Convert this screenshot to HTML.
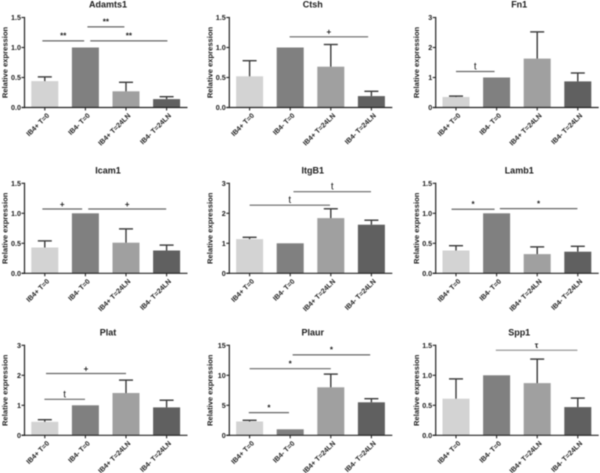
<!DOCTYPE html>
<html lang="en">
<head>
<meta charset="utf-8">
<title>Relative expression charts</title>
<style>
html,body{margin:0;padding:0;background:#fff}
svg{display:block;filter:blur(.4px)}
text{font-family:"Liberation Sans",sans-serif;fill:#1c1c1c}
</style>
</head>
<body>
<svg id="figure" width="600" height="473" viewBox="0 0 600 473" xmlns="http://www.w3.org/2000/svg"></svg>
<script>
const categories = ['IB4+ T=0', 'IB4- T=0', 'IB4+ T=24LN', 'IB4- T=24LN'];

const adamts1Values = [0.44, 1, 0.27, 0.14];
const adamts1ErrorTops = [0.51, 1, 0.42, 0.18];
const adamts1Ticks = ['0.0', '0.5', '1.0', '1.5'];
const adamts1Brackets = [[-0.06, 0.97, 1.11, '**'], [1.05, 1.96, 1.344, '**'], [1.12, 3.02, 1.11, '**']];

const ctshValues = [0.52, 1, 0.68, 0.19];
const ctshErrorTops = [0.78, 1, 1.05, 0.27];
const ctshTicks = ['0.0', '0.5', '1.0', '1.5'];
const ctshBrackets = [[0.985, 2.92, 1.178, '+']];

const fn1Values = [0.35, 1, 1.63, 0.87];
const fn1ErrorTops = [0.38, 1, 2.52, 1.15];
const fn1Ticks = ['0', '1', '2', '3'];
const fn1Brackets = [[0, 0.95, 1.2, 't']];

const icam1Values = [0.43, 1, 0.51, 0.38];
const icam1ErrorTops = [0.54, 1, 0.74, 0.47];
const icam1Ticks = ['0.0', '0.5', '1.0', '1.5'];
const icam1Brackets = [[-0.06, 0.92, 1.072, '+'], [1.07, 2.99, 1.072, '+']];

const itgb1Values = [1.14, 1, 1.84, 1.62];
const itgb1ErrorTops = [1.2, 1, 2.15, 1.77];
const itgb1Ticks = ['0', '1', '2', '3'];
const itgb1Brackets = [[0, 1.98, 2.27, 't'], [1.08, 2.99, 2.72, 't']];

const lamb1Values = [0.38, 1, 0.32, 0.36];
const lamb1ErrorTops = [0.46, 1, 0.44, 0.45];
const lamb1Ticks = ['0.0', '0.5', '1.0', '1.5'];
const lamb1Brackets = [[-0.11, 0.95, 1.067, '*'], [1.08, 2.99, 1.078, '*']];

const platValues = [0.45, 1, 1.41, 0.93];
const platErrorTops = [0.52, 1, 1.84, 1.17];
const platTicks = ['0', '1', '2', '3'];
const platBrackets = [[0.03, 2, 2.06, '+'], [-0.01, 0.99, 1.2, 't']];

const plaurValues = [2.3, 1, 8, 5.5];
const plaurErrorTops = [2.5, 1, 10.2, 6.1];
const plaurTicks = ['0', '5', '10', '15'];
const plaurBrackets = [[0, 2, 11.1, '*'], [1.06, 2.97, 13.4, '*'], [-0.02, 0.97, 3.78, '*']];

const spp1Values = [0.61, 1, 0.87, 0.47];
const spp1ErrorTops = [0.94, 1, 1.27, 0.62];
const spp1Ticks = ['0.0', '0.5', '1.0', '1.5'];
const spp1Brackets = [[0.98, 2.99, 1.417, 'τ']];

const panels = [
  {title: 'Adamts1', values: adamts1Values, tops: adamts1ErrorTops, ticks: adamts1Ticks, brackets: adamts1Brackets},
  {title: 'Ctsh', values: ctshValues, tops: ctshErrorTops, ticks: ctshTicks, brackets: ctshBrackets},
  {title: 'Fn1', values: fn1Values, tops: fn1ErrorTops, ticks: fn1Ticks, brackets: fn1Brackets},
  {title: 'Icam1', values: icam1Values, tops: icam1ErrorTops, ticks: icam1Ticks, brackets: icam1Brackets},
  {title: 'ItgB1', values: itgb1Values, tops: itgb1ErrorTops, ticks: itgb1Ticks, brackets: itgb1Brackets},
  {title: 'Lamb1', values: lamb1Values, tops: lamb1ErrorTops, ticks: lamb1Ticks, brackets: lamb1Brackets},
  {title: 'Plat', values: platValues, tops: platErrorTops, ticks: platTicks, brackets: platBrackets},
  {title: 'Plaur', values: plaurValues, tops: plaurErrorTops, ticks: plaurTicks, brackets: plaurBrackets},
  {title: 'Spp1', values: spp1Values, tops: spp1ErrorTops, ticks: spp1Ticks, brackets: spp1Brackets}
];

const NS = 'http://www.w3.org/2000/svg';
const figure = document.getElementById('figure');
const axisLefts = [24.5, 229.3, 435.7];
const baselines = [107.5, 273.3, 435.3];
const titleYs = [7.5, 173.5, 335.5];
const barFills = ['#d3d3d3', '#808080', '#a0a0a0', '#606060'];
const plotHeight = 90;

function make(parent, tag, attrs, text) {
  const el = document.createElementNS(NS, tag);
  for (const k in attrs) el.setAttribute(k, attrs[k]);
  if (text !== undefined) el.textContent = text;
  parent.appendChild(el);
  return el;
}

panels.forEach(function (p, index) {
  const col = index % 3;
  const row = Math.floor(index / 3);
  const ax = axisLefts[col];
  const base = baselines[row];
  const maxY = parseFloat(p.ticks[p.ticks.length - 1]);
  const xScale = function (c) { return ax + 20.3 + 40.6 * c; };
  const yScale = function (v) { return base - v / maxY * plotHeight; };

  const g = make(figure, 'g', {});
  
  

  const title = make(g, 'text', {x: ax + 83.5, y: titleYs[row], 'text-anchor': 'middle', 'font-size': 9, 'font-weight': 'bold'}, p.title);
  
  

  p.values.forEach(function (v, i) {
    const cx = xScale(i);
    const bar = make(g, 'rect', {x: cx - 13.5, y: yScale(v), width: 27, height: base - yScale(v), fill: barFills[i]});
    
    
    if (p.tops[i] > v) {
      const stem = make(g, 'line', {x1: cx, x2: cx, y1: yScale(v), y2: yScale(p.tops[i]), stroke: '#3a3a3a', 'stroke-width': 1.4});
      
      
      const cap = make(g, 'line', {x1: cx - 7, x2: cx + 7, y1: yScale(p.tops[i]), y2: yScale(p.tops[i]), stroke: '#3a3a3a', 'stroke-width': 1.4});
      
      
    }
  });

  const yAxis = make(g, 'line', {x1: ax, x2: ax, y1: base + 0.6, y2: base - plotHeight - 0.6, stroke: '#222', 'stroke-width': 1.2});
  
  
  const xAxis = make(g, 'line', {x1: ax - 3, x2: ax + 163, y1: base, y2: base, stroke: '#222', 'stroke-width': 1.2});
  
  

  p.ticks.forEach(function (t) {
    const y = yScale(parseFloat(t));
    const tick = make(g, 'line', {x1: ax - 3, x2: ax, y1: y, y2: y, stroke: '#222', 'stroke-width': 1.1});
    
    
    const label = make(g, 'text', {x: ax - 3.5, y: y + 2.6, 'text-anchor': 'end', 'font-size': 7.2, 'font-weight': 'bold'}, t);
    
    
  });

  const ytx = ax - 16.8;
  const ytitle = make(g, 'text', {x: ytx, y: base - 45, 'text-anchor': 'middle', 'font-size': 7.6, 'font-weight': 'bold', transform: 'rotate(-90 ' + ytx + ' ' + (base - 45) + ')'}, 'Relative expression');
  
  

  categories.forEach(function (c, i) {
    const cx = xScale(i);
    const tick = make(g, 'line', {x1: cx, x2: cx, y1: base, y2: base + 3, stroke: '#222', 'stroke-width': 1.1});
    
    
    const lx = cx + 5;
    const ly = base + 8.5;
    const label = make(g, 'text', {x: lx, y: ly, 'text-anchor': 'end', 'font-size': 7, 'font-weight': 'bold', transform: 'rotate(-45 ' + lx + ' ' + ly + ')'}, c);
    
    
  });

  p.brackets.forEach(function (b) {
    const y = yScale(b[2]);
    const line = make(g, 'line', {x1: xScale(b[0]), x2: xScale(b[1]), y1: y, y2: y, stroke: b[3] === 'τ' ? '#999' : '#666', 'stroke-width': 1.2});
    
    
    const isT = b[3] === 't';
    const mark = make(g, 'text', {x: (xScale(b[0]) + xScale(b[1])) / 2, y: y - (isT ? 2 : 2.2), 'text-anchor': 'middle', 'font-size': isT ? 10 : 8, 'font-weight': isT ? 'normal' : 'bold'}, b[3]);
    
    
  });
});
</script>
</body>
</html>
